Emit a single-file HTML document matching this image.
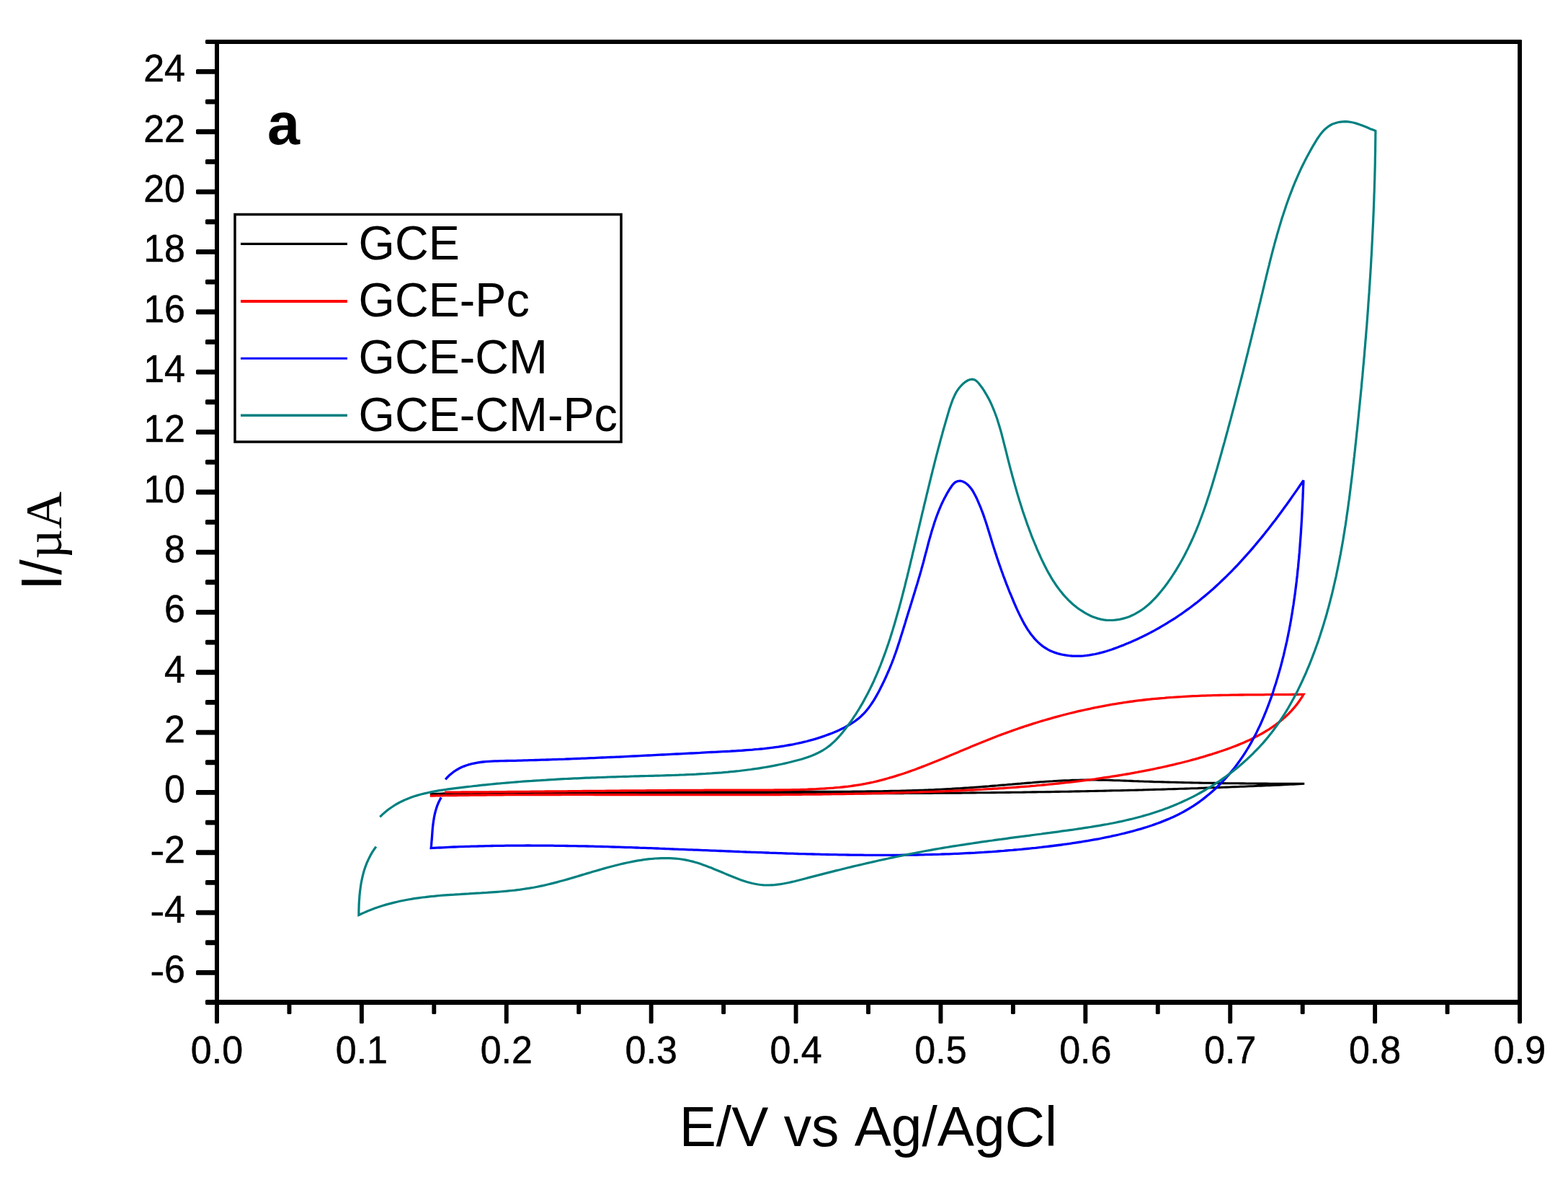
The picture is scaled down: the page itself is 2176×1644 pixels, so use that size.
<!DOCTYPE html>
<html><head><meta charset="utf-8"><title>Cyclic voltammogram</title>
<style>
html,body{margin:0;padding:0;background:#fff;}
svg{display:block;}
text{font-kerning:none;}
.tl{font-family:"Liberation Sans",Arial,sans-serif;font-size:52px;fill:#000;stroke:#000;stroke-width:0.5px;}
.ttl{font-family:"Liberation Sans",Arial,sans-serif;font-size:76.7px;fill:#000;}
.ser{font-family:"Liberation Serif","Times New Roman",serif;font-size:72px;fill:#000;}
.lab{font-family:"Liberation Sans",Arial,sans-serif;font-size:81px;font-weight:bold;fill:#000;}
.lg{font-family:"Liberation Sans",Arial,sans-serif;font-size:64.7px;fill:#000;}
</style></head><body>
<svg width="2176" height="1644" viewBox="0 0 2176 1644">
<rect width="2176" height="1644" fill="#fff"/>
<path d="M596.8,1101.9 L600.8,1101.6 L604.8,1101.4 L608.8,1101.2 L612.8,1101.0 L616.8,1100.8 L620.8,1100.7 L624.9,1100.6 L628.9,1100.6 L632.9,1100.5 L636.9,1100.4 L640.9,1100.3 L644.9,1100.2 L648.9,1100.2 L653.0,1100.1 L657.0,1100.0 L661.0,1099.9 L665.0,1099.9 L669.0,1099.8 L673.0,1099.8 L677.1,1099.7 L681.1,1099.6 L685.1,1099.6 L689.1,1099.5 L693.1,1099.5 L697.1,1099.4 L701.2,1099.4 L705.2,1099.3 L709.2,1099.3 L713.2,1099.2 L717.2,1099.2 L721.2,1099.1 L725.3,1099.1 L729.3,1099.0 L733.3,1099.0 L737.3,1098.9 L741.3,1098.9 L745.4,1098.9 L749.4,1098.8 L753.4,1098.8 L757.4,1098.8 L761.4,1098.7 L765.4,1098.7 L769.5,1098.7 L773.5,1098.6 L777.5,1098.6 L781.5,1098.6 L785.5,1098.6 L789.6,1098.5 L793.6,1098.5 L797.6,1098.5 L801.6,1098.5 L805.6,1098.5 L809.7,1098.4 L813.7,1098.4 L817.7,1098.4 L821.7,1098.4 L825.7,1098.4 L829.8,1098.4 L833.8,1098.4 L837.8,1098.3 L841.8,1098.3 L845.8,1098.3 L849.9,1098.3 L853.9,1098.3 L857.9,1098.3 L861.9,1098.3 L865.9,1098.3 L870.0,1098.3 L874.0,1098.3 L878.0,1098.3 L882.0,1098.3 L886.0,1098.3 L890.1,1098.2 L894.1,1098.2 L898.1,1098.2 L902.1,1098.2 L906.1,1098.2 L910.2,1098.2 L914.2,1098.2 L918.2,1098.2 L922.2,1098.2 L926.3,1098.2 L930.3,1098.2 L934.3,1098.2 L938.3,1098.3 L942.3,1098.3 L946.4,1098.3 L950.4,1098.3 L954.4,1098.3 L958.4,1098.3 L962.4,1098.3 L966.5,1098.3 L970.5,1098.3 L974.5,1098.3 L978.5,1098.3 L982.6,1098.3 L986.6,1098.3 L990.6,1098.3 L994.6,1098.3 L998.6,1098.3 L1002.7,1098.3 L1006.7,1098.3 L1010.7,1098.3 L1014.7,1098.3 L1018.8,1098.3 L1022.8,1098.3 L1026.8,1098.3 L1030.8,1098.3 L1034.8,1098.4 L1038.9,1098.4 L1042.9,1098.4 L1046.9,1098.4 L1050.9,1098.4 L1055.0,1098.4 L1059.0,1098.4 L1063.0,1098.4 L1067.0,1098.4 L1071.0,1098.4 L1075.1,1098.4 L1079.1,1098.4 L1083.1,1098.4 L1087.1,1098.4 L1091.2,1098.4 L1095.2,1098.4 L1099.2,1098.4 L1103.2,1098.4 L1107.2,1098.4 L1111.3,1098.4 L1115.3,1098.4 L1119.3,1098.4 L1123.3,1098.4 L1127.4,1098.3 L1131.4,1098.3 L1135.4,1098.3 L1139.4,1098.3 L1143.4,1098.3 L1147.5,1098.3 L1151.5,1098.3 L1155.5,1098.3 L1159.5,1098.3 L1163.5,1098.2 L1167.6,1098.2 L1171.6,1098.2 L1175.6,1098.2 L1179.6,1098.2 L1183.7,1098.1 L1187.7,1098.1 L1191.7,1098.1 L1195.7,1098.0 L1199.7,1098.0 L1203.8,1097.9 L1207.8,1097.9 L1211.8,1097.8 L1215.8,1097.8 L1219.8,1097.7 L1223.9,1097.7 L1227.9,1097.6 L1231.9,1097.5 L1235.9,1097.4 L1239.9,1097.3 L1243.9,1097.3 L1248.0,1097.2 L1252.0,1097.1 L1256.0,1097.0 L1260.0,1096.8 L1264.0,1096.7 L1268.0,1096.6 L1272.1,1096.5 L1276.1,1096.3 L1280.1,1096.2 L1284.1,1096.0 L1288.1,1095.9 L1292.1,1095.7 L1296.2,1095.6 L1300.2,1095.4 L1304.2,1095.2 L1308.2,1095.0 L1312.2,1094.8 L1316.2,1094.6 L1320.2,1094.4 L1324.2,1094.1 L1328.3,1093.9 L1332.3,1093.7 L1336.3,1093.4 L1340.3,1093.1 L1344.3,1092.9 L1348.3,1092.6 L1352.3,1092.3 L1356.3,1092.0 L1360.3,1091.7 L1364.3,1091.4 L1368.3,1091.1 L1372.3,1090.8 L1376.4,1090.4 L1380.4,1090.1 L1384.4,1089.8 L1388.4,1089.4 L1392.4,1089.1 L1396.4,1088.8 L1400.4,1088.4 L1404.4,1088.1 L1408.4,1087.7 L1412.4,1087.4 L1416.4,1087.1 L1420.4,1086.7 L1424.4,1086.4 L1428.5,1086.1 L1432.5,1085.8 L1436.5,1085.4 L1440.5,1085.1 L1444.5,1084.8 L1448.5,1084.6 L1452.5,1084.3 L1456.5,1084.0 L1460.5,1083.8 L1464.5,1083.5 L1468.6,1083.3 L1472.6,1083.1 L1476.6,1082.9 L1480.6,1082.7 L1484.6,1082.6 L1488.6,1082.4 L1492.6,1082.3 L1496.7,1082.2 L1500.7,1082.1 L1504.7,1082.0 L1508.7,1082.0 L1512.7,1082.0 L1516.7,1082.0 L1520.8,1082.0 L1524.8,1082.1 L1528.8,1082.2 L1532.8,1082.2 L1536.8,1082.3 L1540.9,1082.4 L1544.9,1082.6 L1548.9,1082.7 L1552.9,1082.8 L1556.9,1083.0 L1561.0,1083.1 L1565.0,1083.3 L1569.0,1083.4 L1573.0,1083.6 L1577.0,1083.7 L1581.1,1083.9 L1585.1,1084.0 L1589.1,1084.2 L1593.1,1084.3 L1597.1,1084.4 L1601.2,1084.6 L1605.2,1084.7 L1609.2,1084.8 L1613.2,1084.9 L1617.2,1085.0 L1621.3,1085.1 L1625.3,1085.2 L1629.3,1085.3 L1633.3,1085.4 L1637.3,1085.5 L1641.4,1085.6 L1645.4,1085.7 L1649.4,1085.8 L1653.4,1085.9 L1657.4,1086.0 L1661.5,1086.0 L1665.5,1086.1 L1669.5,1086.2 L1673.5,1086.3 L1677.5,1086.3 L1681.6,1086.4 L1685.6,1086.4 L1689.6,1086.5 L1693.6,1086.6 L1697.6,1086.6 L1701.6,1086.7 L1705.7,1086.7 L1709.7,1086.8 L1713.7,1086.8 L1717.7,1086.8 L1721.7,1086.9 L1725.8,1086.9 L1729.8,1087.0 L1733.8,1087.0 L1737.8,1087.0 L1741.8,1087.0 L1745.9,1087.1 L1749.9,1087.1 L1753.9,1087.1 L1757.9,1087.1 L1761.9,1087.2 L1766.0,1087.2 L1770.0,1087.2 L1774.0,1087.2 L1778.0,1087.2 L1782.0,1087.2 L1786.1,1087.3 L1790.1,1087.3 L1794.1,1087.3 L1798.1,1087.3 L1802.2,1087.3 L1806.2,1087.3 L1810.2,1087.3 L1806.2,1087.5 L1802.2,1087.7 L1798.2,1087.9 L1794.2,1088.1 L1790.2,1088.3 L1786.1,1088.5 L1782.1,1088.7 L1778.1,1088.9 L1774.1,1089.1 L1770.1,1089.2 L1766.1,1089.4 L1762.1,1089.6 L1758.1,1089.8 L1754.1,1090.0 L1750.0,1090.1 L1746.0,1090.3 L1742.0,1090.5 L1738.0,1090.7 L1734.0,1090.8 L1730.0,1091.0 L1726.0,1091.2 L1722.0,1091.3 L1718.0,1091.5 L1714.0,1091.6 L1709.9,1091.8 L1705.9,1092.0 L1701.9,1092.1 L1697.9,1092.3 L1693.9,1092.4 L1689.9,1092.6 L1685.9,1092.7 L1681.9,1092.8 L1677.8,1093.0 L1673.8,1093.1 L1669.8,1093.3 L1665.8,1093.4 L1661.8,1093.6 L1657.8,1093.7 L1653.8,1093.8 L1649.8,1094.0 L1645.8,1094.1 L1641.7,1094.2 L1637.7,1094.3 L1633.7,1094.5 L1629.7,1094.6 L1625.7,1094.7 L1621.7,1094.8 L1617.7,1095.0 L1613.7,1095.1 L1609.6,1095.2 L1605.6,1095.3 L1601.6,1095.4 L1597.6,1095.5 L1593.6,1095.6 L1589.6,1095.7 L1585.6,1095.9 L1581.6,1096.0 L1577.5,1096.1 L1573.5,1096.2 L1569.5,1096.3 L1565.5,1096.4 L1561.5,1096.5 L1557.5,1096.6 L1553.5,1096.7 L1549.5,1096.8 L1545.4,1096.8 L1541.4,1096.9 L1537.4,1097.0 L1533.4,1097.1 L1529.4,1097.2 L1525.4,1097.3 L1521.4,1097.4 L1517.3,1097.5 L1513.3,1097.5 L1509.3,1097.6 L1505.3,1097.7 L1501.3,1097.8 L1497.3,1097.9 L1493.3,1097.9 L1489.3,1098.0 L1485.2,1098.1 L1481.2,1098.2 L1477.2,1098.2 L1473.2,1098.3 L1469.2,1098.4 L1465.2,1098.4 L1461.2,1098.5 L1457.1,1098.6 L1453.1,1098.6 L1449.1,1098.7 L1445.1,1098.8 L1441.1,1098.8 L1437.1,1098.9 L1433.1,1098.9 L1429.0,1099.0 L1425.0,1099.0 L1421.0,1099.1 L1417.0,1099.2 L1413.0,1099.2 L1409.0,1099.3 L1405.0,1099.3 L1400.9,1099.4 L1396.9,1099.4 L1392.9,1099.5 L1388.9,1099.5 L1384.9,1099.5 L1380.9,1099.6 L1376.9,1099.6 L1372.8,1099.7 L1368.8,1099.7 L1364.8,1099.8 L1360.8,1099.8 L1356.8,1099.8 L1352.8,1099.9 L1348.8,1099.9 L1344.7,1100.0 L1340.7,1100.0 L1336.7,1100.0 L1332.7,1100.1 L1328.7,1100.1 L1324.7,1100.1 L1320.7,1100.2 L1316.6,1100.2 L1312.6,1100.2 L1308.6,1100.2 L1304.6,1100.3 L1300.6,1100.3 L1296.6,1100.3 L1292.5,1100.4 L1288.5,1100.4 L1284.5,1100.4 L1280.5,1100.4 L1276.5,1100.4 L1272.5,1100.5 L1268.5,1100.5 L1264.4,1100.5 L1260.4,1100.5 L1256.4,1100.5 L1252.4,1100.6 L1248.4,1100.6 L1244.4,1100.6 L1240.4,1100.6 L1236.3,1100.6 L1232.3,1100.6 L1228.3,1100.7 L1224.3,1100.7 L1220.3,1100.7 L1216.3,1100.7 L1212.2,1100.7 L1208.2,1100.7 L1204.2,1100.7 L1200.2,1100.7 L1196.2,1100.8 L1192.2,1100.8 L1188.2,1100.8 L1184.1,1100.8 L1180.1,1100.8 L1176.1,1100.8 L1172.1,1100.8 L1168.1,1100.8 L1164.1,1100.8 L1160.0,1100.8 L1156.0,1100.8 L1152.0,1100.8 L1148.0,1100.8 L1144.0,1100.8 L1140.0,1100.8 L1136.0,1100.9 L1131.9,1100.9 L1127.9,1100.9 L1123.9,1100.9 L1119.9,1100.9 L1115.9,1100.9 L1111.9,1100.9 L1107.8,1100.9 L1103.8,1100.9 L1099.8,1100.9 L1095.8,1100.9 L1091.8,1100.9 L1087.8,1100.9 L1083.8,1100.9 L1079.7,1100.9 L1075.7,1100.9 L1071.7,1100.9 L1067.7,1100.9 L1063.7,1100.8 L1059.7,1100.8 L1055.6,1100.8 L1051.6,1100.8 L1047.6,1100.8 L1043.6,1100.8 L1039.6,1100.8 L1035.6,1100.8 L1031.6,1100.8 L1027.5,1100.8 L1023.5,1100.8 L1019.5,1100.8 L1015.5,1100.8 L1011.5,1100.8 L1007.5,1100.8 L1003.4,1100.8 L999.4,1100.8 L995.4,1100.8 L991.4,1100.8 L987.4,1100.8 L983.4,1100.8 L979.4,1100.8 L975.3,1100.8 L971.3,1100.8 L967.3,1100.7 L963.3,1100.7 L959.3,1100.7 L955.3,1100.7 L951.2,1100.7 L947.2,1100.7 L943.2,1100.7 L939.2,1100.7 L935.2,1100.7 L931.2,1100.7 L927.1,1100.7 L923.1,1100.7 L919.1,1100.7 L915.1,1100.7 L911.1,1100.7 L907.1,1100.7 L903.1,1100.7 L899.0,1100.7 L895.0,1100.7 L891.0,1100.7 L887.0,1100.7 L883.0,1100.7 L879.0,1100.7 L875.0,1100.7 L870.9,1100.7 L866.9,1100.7 L862.9,1100.7 L858.9,1100.6 L854.9,1100.6 L850.9,1100.6 L846.8,1100.6 L842.8,1100.6 L838.8,1100.6 L834.8,1100.6 L830.8,1100.7 L826.8,1100.7 L822.8,1100.7 L818.7,1100.7 L814.7,1100.7 L810.7,1100.7 L806.7,1100.7 L802.7,1100.7 L798.7,1100.7 L794.7,1100.7 L790.6,1100.7 L786.6,1100.7 L782.6,1100.7 L778.6,1100.7 L774.6,1100.7 L770.6,1100.7 L766.5,1100.7 L762.5,1100.7 L758.5,1100.7 L754.5,1100.7 L750.5,1100.8 L746.5,1100.8 L742.5,1100.8 L738.4,1100.8 L734.4,1100.8 L730.4,1100.8 L726.4,1100.8 L722.4,1100.8 L718.4,1100.9 L714.4,1100.9 L710.3,1100.9 L706.3,1100.9 L702.3,1100.9 L698.3,1100.9 L694.3,1101.0 L690.3,1101.0 L686.3,1101.0 L682.2,1101.0 L678.2,1101.0 L674.2,1101.1 L670.2,1101.1 L666.2,1101.1 L662.2,1101.1 L658.2,1101.1 L654.1,1101.2 L650.1,1101.2 L646.1,1101.2 L642.1,1101.3 L638.1,1101.3 L634.1,1101.3 L630.1,1101.3 L626.1,1101.4 L622.0,1101.4 L618.0,1101.4 L614.0,1101.5 L610.0,1101.5" fill="none" stroke="#000" stroke-width="3.1" stroke-linejoin="miter" stroke-miterlimit="2.5" stroke-linecap="butt"/>
<path d="M596.8,1104.1 L600.8,1104.0 L604.8,1103.9 L608.8,1103.9 L612.9,1103.8 L616.9,1103.7 L620.9,1103.7 L624.9,1103.6 L628.9,1103.5 L632.9,1103.5 L637.0,1103.4 L641.0,1103.4 L645.0,1103.3 L649.0,1103.3 L653.0,1103.2 L657.0,1103.2 L661.1,1103.1 L665.1,1103.1 L669.1,1103.0 L673.1,1103.0 L677.1,1102.9 L681.2,1102.9 L685.2,1102.9 L689.2,1102.8 L693.2,1102.8 L697.2,1102.8 L701.2,1102.7 L705.3,1102.7 L709.3,1102.7 L713.3,1102.7 L717.3,1102.6 L721.3,1102.6 L725.3,1102.6 L729.4,1102.6 L733.4,1102.6 L737.4,1102.6 L741.4,1102.5 L745.4,1102.5 L749.4,1102.5 L753.5,1102.5 L757.5,1102.5 L761.5,1102.5 L765.5,1102.5 L769.5,1102.5 L773.6,1102.5 L777.6,1102.5 L781.6,1102.4 L785.6,1102.4 L789.6,1102.4 L793.6,1102.4 L797.7,1102.4 L801.7,1102.4 L805.7,1102.4 L809.7,1102.4 L813.7,1102.4 L817.7,1102.4 L821.8,1102.4 L825.8,1102.5 L829.8,1102.5 L833.8,1102.5 L837.8,1102.5 L841.9,1102.5 L845.9,1102.5 L849.9,1102.5 L853.9,1102.5 L857.9,1102.5 L861.9,1102.5 L866.0,1102.5 L870.0,1102.5 L874.0,1102.5 L878.0,1102.5 L882.0,1102.5 L886.1,1102.6 L890.1,1102.6 L894.1,1102.6 L898.1,1102.6 L902.1,1102.6 L906.1,1102.6 L910.2,1102.6 L914.2,1102.6 L918.2,1102.6 L922.2,1102.6 L926.2,1102.6 L930.3,1102.7 L934.3,1102.7 L938.3,1102.7 L942.3,1102.7 L946.3,1102.7 L950.4,1102.7 L954.4,1102.7 L958.4,1102.7 L962.4,1102.7 L966.4,1102.7 L970.4,1102.7 L974.5,1102.7 L978.5,1102.7 L982.5,1102.7 L986.5,1102.7 L990.5,1102.7 L994.6,1102.7 L998.6,1102.7 L1002.6,1102.7 L1006.6,1102.7 L1010.6,1102.7 L1014.6,1102.7 L1018.7,1102.7 L1022.7,1102.7 L1026.7,1102.7 L1030.7,1102.7 L1034.7,1102.7 L1038.7,1102.7 L1042.8,1102.7 L1046.8,1102.6 L1050.8,1102.6 L1054.8,1102.6 L1058.8,1102.6 L1062.9,1102.6 L1066.9,1102.6 L1070.9,1102.5 L1074.9,1102.5 L1078.9,1102.5 L1082.9,1102.5 L1087.0,1102.4 L1091.0,1102.4 L1095.0,1102.4 L1099.0,1102.4 L1103.0,1102.3 L1107.1,1102.3 L1111.1,1102.3 L1115.1,1102.2 L1119.1,1102.2 L1123.1,1102.1 L1127.1,1102.1 L1131.2,1102.1 L1135.2,1102.0 L1139.2,1102.0 L1143.2,1101.9 L1147.2,1101.9 L1151.2,1101.8 L1155.3,1101.7 L1159.3,1101.7 L1163.3,1101.6 L1167.3,1101.6 L1171.3,1101.5 L1175.3,1101.4 L1179.4,1101.4 L1183.4,1101.3 L1187.4,1101.2 L1191.4,1101.1 L1195.4,1101.1 L1199.4,1101.0 L1203.5,1100.9 L1207.5,1100.8 L1211.5,1100.7 L1215.5,1100.6 L1219.5,1100.6 L1223.5,1100.5 L1227.6,1100.4 L1231.6,1100.3 L1235.6,1100.2 L1239.6,1100.1 L1243.6,1099.9 L1247.6,1099.8 L1251.7,1099.7 L1255.7,1099.6 L1259.7,1099.5 L1263.7,1099.4 L1267.7,1099.2 L1271.7,1099.1 L1275.8,1099.0 L1279.8,1098.8 L1283.8,1098.7 L1287.8,1098.6 L1291.8,1098.4 L1295.8,1098.3 L1299.9,1098.1 L1303.9,1098.0 L1307.9,1097.8 L1311.9,1097.7 L1315.9,1097.5 L1319.9,1097.3 L1323.9,1097.2 L1328.0,1097.0 L1332.0,1096.8 L1336.0,1096.6 L1340.0,1096.4 L1344.0,1096.2 L1348.0,1096.0 L1352.0,1095.8 L1356.0,1095.6 L1360.1,1095.4 L1364.1,1095.2 L1368.1,1094.9 L1372.1,1094.7 L1376.1,1094.5 L1380.1,1094.2 L1384.1,1094.0 L1388.1,1093.7 L1392.1,1093.5 L1396.1,1093.2 L1400.1,1092.9 L1404.1,1092.6 L1408.1,1092.3 L1412.2,1092.0 L1416.2,1091.7 L1420.2,1091.4 L1424.2,1091.1 L1428.2,1090.8 L1432.2,1090.4 L1436.2,1090.1 L1440.2,1089.7 L1444.1,1089.4 L1448.1,1089.0 L1452.1,1088.6 L1456.1,1088.2 L1460.1,1087.8 L1464.1,1087.4 L1468.1,1087.0 L1472.1,1086.6 L1476.1,1086.2 L1480.1,1085.7 L1484.1,1085.3 L1488.0,1084.8 L1492.0,1084.3 L1496.0,1083.9 L1500.0,1083.4 L1504.0,1082.9 L1507.9,1082.4 L1511.9,1081.8 L1515.9,1081.3 L1519.9,1080.8 L1523.8,1080.2 L1527.8,1079.6 L1531.8,1079.0 L1535.7,1078.5 L1539.7,1077.9 L1543.7,1077.2 L1547.6,1076.6 L1551.6,1076.0 L1555.6,1075.3 L1559.5,1074.7 L1563.5,1074.0 L1567.4,1073.3 L1571.4,1072.6 L1575.3,1071.9 L1579.3,1071.2 L1583.2,1070.4 L1587.2,1069.7 L1591.1,1068.9 L1595.1,1068.1 L1599.0,1067.3 L1602.9,1066.5 L1606.9,1065.7 L1610.8,1064.9 L1614.7,1064.0 L1618.7,1063.1 L1622.6,1062.2 L1626.5,1061.3 L1630.4,1060.4 L1634.3,1059.4 L1638.3,1058.5 L1642.2,1057.5 L1646.1,1056.5 L1650.0,1055.5 L1653.9,1054.4 L1657.8,1053.4 L1661.6,1052.3 L1665.5,1051.2 L1669.4,1050.1 L1673.3,1048.9 L1677.1,1047.7 L1681.0,1046.6 L1684.9,1045.3 L1688.7,1044.1 L1692.6,1042.8 L1696.4,1041.5 L1700.2,1040.2 L1704.0,1038.9 L1707.8,1037.5 L1711.6,1036.0 L1715.4,1034.6 L1719.1,1033.1 L1722.9,1031.5 L1726.6,1030.0 L1730.2,1028.3 L1733.9,1026.7 L1737.5,1024.9 L1741.1,1023.1 L1744.6,1021.3 L1748.1,1019.4 L1751.6,1017.5 L1755.0,1015.5 L1758.4,1013.4 L1761.8,1011.3 L1765.1,1009.1 L1768.3,1006.9 L1771.5,1004.5 L1774.7,1002.1 L1777.7,999.7 L1780.8,997.1 L1783.7,994.5 L1786.6,991.8 L1789.4,989.0 L1792.2,986.1 L1794.8,983.1 L1797.4,980.1 L1799.9,976.9 L1802.3,973.7 L1804.6,970.4 L1806.9,966.9 L1809.0,963.4 L1805.0,963.4 L1801.0,963.5 L1797.0,963.5 L1793.0,963.5 L1789.0,963.6 L1785.0,963.6 L1781.0,963.6 L1777.0,963.6 L1773.0,963.7 L1769.0,963.7 L1764.9,963.7 L1760.9,963.7 L1756.9,963.7 L1752.9,963.8 L1748.8,963.8 L1744.8,963.8 L1740.8,963.8 L1736.8,963.9 L1732.7,963.9 L1728.7,963.9 L1724.7,964.0 L1720.6,964.0 L1716.6,964.1 L1712.5,964.1 L1708.5,964.2 L1704.5,964.3 L1700.4,964.3 L1696.4,964.4 L1692.4,964.5 L1688.3,964.6 L1684.3,964.7 L1680.3,964.8 L1676.2,964.9 L1672.2,965.1 L1668.1,965.2 L1664.1,965.4 L1660.1,965.6 L1656.0,965.7 L1652.0,965.9 L1648.0,966.1 L1644.0,966.3 L1639.9,966.6 L1635.9,966.8 L1631.9,967.1 L1627.9,967.4 L1623.8,967.6 L1619.8,967.9 L1615.8,968.3 L1611.8,968.6 L1607.8,969.0 L1603.8,969.3 L1599.8,969.7 L1595.8,970.1 L1591.8,970.5 L1587.8,971.0 L1583.8,971.5 L1579.8,971.9 L1575.8,972.4 L1571.8,973.0 L1567.8,973.5 L1563.8,974.1 L1559.9,974.7 L1555.9,975.3 L1551.9,975.9 L1548.0,976.6 L1544.0,977.2 L1540.1,977.9 L1536.1,978.6 L1532.2,979.3 L1528.2,980.1 L1524.3,980.8 L1520.3,981.6 L1516.4,982.4 L1512.5,983.3 L1508.6,984.1 L1504.6,985.0 L1500.7,985.8 L1496.8,986.7 L1492.9,987.7 L1489.0,988.6 L1485.1,989.5 L1481.2,990.5 L1477.3,991.5 L1473.4,992.5 L1469.5,993.6 L1465.7,994.6 L1461.8,995.7 L1457.9,996.8 L1454.1,997.9 L1450.2,999.0 L1446.3,1000.1 L1442.5,1001.3 L1438.7,1002.5 L1434.8,1003.7 L1431.0,1004.9 L1427.2,1006.1 L1423.3,1007.3 L1419.5,1008.6 L1415.7,1009.9 L1411.9,1011.2 L1408.1,1012.5 L1404.3,1013.9 L1400.5,1015.2 L1396.7,1016.6 L1392.9,1018.0 L1389.1,1019.4 L1385.4,1020.8 L1381.6,1022.2 L1377.8,1023.7 L1374.1,1025.2 L1370.3,1026.7 L1366.6,1028.2 L1362.8,1029.7 L1359.1,1031.2 L1355.4,1032.7 L1351.6,1034.3 L1347.9,1035.8 L1344.2,1037.4 L1340.4,1039.0 L1336.7,1040.5 L1333.0,1042.1 L1329.3,1043.7 L1325.5,1045.2 L1321.8,1046.8 L1318.1,1048.3 L1314.4,1049.9 L1310.6,1051.4 L1306.9,1053.0 L1303.2,1054.5 L1299.5,1056.0 L1295.7,1057.5 L1292.0,1059.0 L1288.2,1060.5 L1284.5,1062.0 L1280.8,1063.4 L1277.0,1064.9 L1273.2,1066.3 L1269.5,1067.7 L1265.7,1069.0 L1261.9,1070.4 L1258.2,1071.7 L1254.4,1073.0 L1250.6,1074.2 L1246.8,1075.4 L1243.0,1076.6 L1239.1,1077.8 L1235.3,1078.9 L1231.5,1080.0 L1227.6,1081.1 L1223.8,1082.1 L1219.9,1083.1 L1216.0,1084.1 L1212.1,1085.0 L1208.2,1085.8 L1204.3,1086.6 L1200.4,1087.4 L1196.5,1088.1 L1192.5,1088.8 L1188.6,1089.4 L1184.6,1090.0 L1180.6,1090.6 L1176.6,1091.1 L1172.6,1091.5 L1168.6,1092.0 L1164.6,1092.4 L1160.6,1092.7 L1156.5,1093.1 L1152.5,1093.4 L1148.5,1093.7 L1144.5,1094.0 L1140.4,1094.2 L1136.4,1094.4 L1132.4,1094.7 L1128.3,1094.8 L1124.3,1095.0 L1120.3,1095.2 L1116.2,1095.3 L1112.2,1095.4 L1108.2,1095.6 L1104.1,1095.7 L1100.1,1095.7 L1096.0,1095.8 L1092.0,1095.9 L1087.9,1095.9 L1083.9,1096.0 L1079.9,1096.0 L1075.8,1096.0 L1071.8,1096.1 L1067.7,1096.1 L1063.7,1096.1 L1059.6,1096.1 L1055.6,1096.1 L1051.6,1096.1 L1047.5,1096.1 L1043.5,1096.1 L1039.4,1096.1 L1035.4,1096.1 L1031.4,1096.1 L1027.3,1096.1 L1023.3,1096.1 L1019.3,1096.1 L1015.2,1096.1 L1011.2,1096.1 L1007.2,1096.1 L1003.1,1096.2 L999.1,1096.2 L995.1,1096.2 L991.0,1096.2 L987.0,1096.2 L983.0,1096.2 L978.9,1096.2 L974.9,1096.3 L970.9,1096.3 L966.9,1096.3 L962.8,1096.3 L958.8,1096.3 L954.8,1096.4 L950.8,1096.4 L946.7,1096.4 L942.7,1096.4 L938.7,1096.4 L934.7,1096.5 L930.7,1096.5 L926.6,1096.5 L922.6,1096.6 L918.6,1096.6 L914.6,1096.6 L910.5,1096.6 L906.5,1096.7 L902.5,1096.7 L898.5,1096.7 L894.5,1096.8 L890.5,1096.8 L886.4,1096.8 L882.4,1096.9 L878.4,1096.9 L874.4,1096.9 L870.4,1097.0 L866.3,1097.0 L862.3,1097.0 L858.3,1097.1 L854.3,1097.1 L850.3,1097.1 L846.3,1097.2 L842.2,1097.2 L838.2,1097.3 L834.2,1097.3 L830.2,1097.3 L826.2,1097.4 L822.2,1097.4 L818.2,1097.4 L814.1,1097.5 L810.1,1097.5 L806.1,1097.6 L802.1,1097.6 L798.1,1097.6 L794.1,1097.7 L790.0,1097.7 L786.0,1097.8 L782.0,1097.8 L778.0,1097.8 L774.0,1097.9 L770.0,1097.9 L765.9,1098.0 L761.9,1098.0 L757.9,1098.0 L753.9,1098.1 L749.9,1098.1 L745.8,1098.1 L741.8,1098.2 L737.8,1098.2 L733.8,1098.3 L729.8,1098.3 L725.7,1098.3 L721.7,1098.4 L717.7,1098.4 L713.7,1098.5 L709.7,1098.5 L705.6,1098.5 L701.6,1098.6 L697.6,1098.6 L693.6,1098.6 L689.5,1098.7 L685.5,1098.7 L681.5,1098.7 L677.5,1098.8 L673.4,1098.8 L669.4,1098.8 L665.4,1098.9 L661.4,1098.9 L657.3,1098.9 L653.3,1099.0 L649.3,1099.0 L645.2,1099.0 L641.2,1099.0 L637.2,1099.1 L633.1,1099.1 L629.1,1099.1 L625.1,1099.2 L621.0,1099.2 L617.0,1099.2" fill="none" stroke="#f00" stroke-width="3.3" stroke-linejoin="miter" stroke-miterlimit="2.5" stroke-linecap="butt"/>
<path d="M618.2,1081.4 L621.0,1078.2 L624.0,1075.3 L627.1,1072.7 L630.2,1070.3 L633.5,1068.2 L636.9,1066.3 L640.3,1064.6 L643.8,1063.1 L647.5,1061.7 L651.1,1060.6 L654.9,1059.6 L658.7,1058.8 L662.5,1058.1 L666.4,1057.5 L670.4,1057.0 L674.4,1056.6 L678.4,1056.3 L682.4,1056.1 L686.5,1055.9 L690.6,1055.8 L694.7,1055.7 L698.8,1055.6 L702.9,1055.5 L706.9,1055.4 L711.0,1055.4 L715.1,1055.3 L719.2,1055.2 L723.2,1055.1 L727.3,1054.9 L731.4,1054.8 L735.4,1054.7 L739.5,1054.6 L743.5,1054.5 L747.6,1054.4 L751.6,1054.2 L755.6,1054.1 L759.7,1054.0 L763.7,1053.9 L767.7,1053.7 L771.8,1053.6 L775.8,1053.4 L779.8,1053.3 L783.8,1053.2 L787.8,1053.0 L791.8,1052.9 L795.9,1052.7 L799.9,1052.5 L803.9,1052.4 L807.9,1052.2 L811.9,1052.1 L815.9,1051.9 L819.9,1051.7 L823.9,1051.6 L827.9,1051.4 L831.9,1051.2 L835.9,1051.0 L839.9,1050.9 L843.8,1050.7 L847.8,1050.5 L851.8,1050.3 L855.8,1050.1 L859.8,1050.0 L863.8,1049.8 L867.8,1049.6 L871.8,1049.4 L875.7,1049.2 L879.7,1049.0 L883.7,1048.8 L887.7,1048.6 L891.7,1048.4 L895.7,1048.2 L899.7,1048.0 L903.7,1047.8 L907.6,1047.6 L911.6,1047.4 L915.6,1047.2 L919.6,1047.0 L923.6,1046.8 L927.6,1046.6 L931.6,1046.4 L935.6,1046.2 L939.6,1046.0 L943.6,1045.8 L947.6,1045.6 L951.6,1045.4 L955.6,1045.2 L959.6,1045.0 L963.6,1044.8 L967.6,1044.6 L971.6,1044.4 L975.7,1044.1 L979.7,1043.9 L983.7,1043.7 L987.7,1043.5 L991.8,1043.3 L995.8,1043.1 L999.8,1042.9 L1003.9,1042.7 L1007.9,1042.5 L1011.9,1042.3 L1016.0,1042.0 L1020.0,1041.8 L1024.0,1041.5 L1028.1,1041.3 L1032.1,1041.0 L1036.1,1040.7 L1040.2,1040.4 L1044.2,1040.1 L1048.2,1039.7 L1052.2,1039.4 L1056.3,1039.0 L1060.3,1038.6 L1064.3,1038.1 L1068.3,1037.7 L1072.3,1037.2 L1076.2,1036.6 L1080.2,1036.1 L1084.2,1035.5 L1088.2,1034.9 L1092.1,1034.2 L1096.1,1033.5 L1100.0,1032.8 L1103.9,1032.0 L1107.8,1031.2 L1111.7,1030.3 L1115.6,1029.4 L1119.5,1028.5 L1123.4,1027.4 L1127.2,1026.4 L1131.0,1025.3 L1134.9,1024.1 L1138.7,1022.9 L1142.5,1021.6 L1146.2,1020.3 L1150.0,1018.9 L1153.8,1017.5 L1157.5,1016.0 L1161.2,1014.4 L1164.9,1012.8 L1168.5,1011.0 L1172.1,1009.2 L1175.6,1007.3 L1179.1,1005.3 L1182.5,1003.2 L1185.8,1001.0 L1189.0,998.6 L1192.1,996.2 L1195.1,993.5 L1197.9,990.8 L1200.7,987.9 L1203.3,984.8 L1205.7,981.7 L1208.1,978.4 L1210.4,975.0 L1212.6,971.6 L1214.7,968.1 L1216.7,964.6 L1218.7,961.0 L1220.6,957.4 L1222.4,953.8 L1224.2,950.2 L1226.0,946.6 L1227.7,943.0 L1229.4,939.3 L1231.0,935.7 L1232.6,932.0 L1234.2,928.4 L1235.7,924.7 L1237.2,921.0 L1238.6,917.3 L1240.1,913.5 L1241.4,909.8 L1242.8,906.0 L1244.1,902.2 L1245.4,898.4 L1246.6,894.6 L1247.9,890.8 L1249.1,886.9 L1250.3,883.1 L1251.5,879.3 L1252.7,875.4 L1253.9,871.6 L1255.1,867.7 L1256.3,863.9 L1257.4,860.0 L1258.6,856.2 L1259.8,852.3 L1261.0,848.5 L1262.2,844.7 L1263.4,840.8 L1264.6,837.0 L1265.7,833.2 L1266.9,829.4 L1268.1,825.6 L1269.3,821.7 L1270.4,817.9 L1271.6,814.1 L1272.8,810.3 L1273.9,806.5 L1275.0,802.6 L1276.2,798.8 L1277.3,794.9 L1278.4,791.1 L1279.4,787.2 L1280.5,783.4 L1281.6,779.5 L1282.6,775.6 L1283.6,771.7 L1284.6,767.9 L1285.7,764.0 L1286.7,760.1 L1287.7,756.2 L1288.7,752.3 L1289.8,748.4 L1290.9,744.5 L1292.0,740.7 L1293.1,736.8 L1294.3,733.0 L1295.5,729.2 L1296.7,725.3 L1298.0,721.5 L1299.3,717.8 L1300.7,714.0 L1302.1,710.3 L1303.6,706.6 L1305.2,702.9 L1306.8,699.2 L1308.5,695.6 L1310.3,692.0 L1312.2,688.4 L1314.1,684.9 L1316.2,681.4 L1318.3,678.0 L1320.6,674.5 L1323.0,671.4 L1325.8,668.9 L1329.0,667.5 L1332.6,667.2 L1336.2,668.0 L1339.7,669.8 L1343.0,672.4 L1345.9,675.5 L1348.4,678.8 L1350.6,682.2 L1352.5,685.7 L1354.4,689.3 L1356.1,692.9 L1357.7,696.6 L1359.3,700.3 L1360.9,704.0 L1362.3,707.8 L1363.8,711.6 L1365.1,715.4 L1366.4,719.2 L1367.7,723.1 L1369.0,726.9 L1370.2,730.8 L1371.4,734.7 L1372.6,738.5 L1373.8,742.4 L1375.0,746.3 L1376.1,750.1 L1377.3,753.9 L1378.5,757.8 L1379.7,761.6 L1380.9,765.3 L1382.2,769.1 L1383.4,772.9 L1384.6,776.6 L1385.9,780.4 L1387.2,784.1 L1388.5,787.8 L1389.8,791.5 L1391.2,795.2 L1392.5,799.0 L1393.9,802.7 L1395.3,806.4 L1396.7,810.1 L1398.2,813.8 L1399.6,817.5 L1401.1,821.3 L1402.7,825.0 L1404.2,828.7 L1405.8,832.5 L1407.4,836.3 L1409.0,840.0 L1410.7,843.8 L1412.4,847.6 L1414.2,851.4 L1416.0,855.1 L1417.9,858.8 L1419.8,862.5 L1421.8,866.1 L1423.9,869.6 L1426.0,873.1 L1428.3,876.4 L1430.6,879.7 L1433.1,882.8 L1435.6,885.8 L1438.2,888.7 L1441.0,891.4 L1443.9,894.0 L1446.9,896.3 L1450.1,898.5 L1453.4,900.6 L1456.8,902.4 L1460.4,904.0 L1464.0,905.4 L1467.8,906.6 L1471.7,907.6 L1475.6,908.5 L1479.6,909.1 L1483.6,909.7 L1487.7,910.0 L1491.7,910.2 L1495.8,910.2 L1499.8,910.1 L1503.8,909.8 L1507.8,909.4 L1511.8,908.9 L1515.8,908.2 L1519.7,907.5 L1523.6,906.6 L1527.5,905.6 L1531.4,904.6 L1535.3,903.5 L1539.1,902.3 L1543.0,901.0 L1546.8,899.6 L1550.6,898.3 L1554.3,896.8 L1558.1,895.4 L1561.8,893.8 L1565.6,892.3 L1569.3,890.7 L1573.0,889.1 L1576.6,887.4 L1580.3,885.7 L1583.9,884.0 L1587.5,882.3 L1591.1,880.5 L1594.7,878.6 L1598.2,876.8 L1601.8,874.9 L1605.3,872.9 L1608.8,871.0 L1612.2,868.9 L1615.7,866.9 L1619.1,864.8 L1622.5,862.7 L1625.9,860.6 L1629.3,858.5 L1632.6,856.3 L1636.0,854.0 L1639.3,851.8 L1642.6,849.5 L1645.8,847.2 L1649.1,844.8 L1652.3,842.5 L1655.5,840.0 L1658.6,837.6 L1661.8,835.2 L1664.9,832.7 L1668.0,830.1 L1671.1,827.6 L1674.2,825.0 L1677.2,822.4 L1680.3,819.8 L1683.3,817.2 L1686.2,814.5 L1689.2,811.8 L1692.1,809.1 L1695.0,806.3 L1697.9,803.5 L1700.8,800.8 L1703.7,797.9 L1706.5,795.1 L1709.3,792.3 L1712.1,789.4 L1714.9,786.5 L1717.7,783.6 L1720.4,780.6 L1723.1,777.7 L1725.8,774.7 L1728.5,771.7 L1731.2,768.7 L1733.9,765.7 L1736.5,762.7 L1739.1,759.6 L1741.7,756.5 L1744.3,753.4 L1746.9,750.3 L1749.4,747.2 L1752.0,744.1 L1754.5,741.0 L1757.0,737.8 L1759.5,734.7 L1762.0,731.5 L1764.5,728.3 L1766.9,725.1 L1769.4,721.9 L1771.8,718.7 L1774.2,715.5 L1776.6,712.2 L1779.0,709.0 L1781.3,705.8 L1783.7,702.5 L1786.1,699.2 L1788.4,696.0 L1790.7,692.7 L1793.0,689.4 L1795.3,686.1 L1797.6,682.9 L1799.9,679.6 L1802.2,676.3 L1804.4,673.0 L1806.7,669.7 L1808.9,666.4 L1808.8,670.4 L1808.6,674.4 L1808.4,678.4 L1808.3,682.4 L1808.1,686.4 L1808.0,690.4 L1807.8,694.5 L1807.6,698.5 L1807.4,702.5 L1807.2,706.5 L1807.0,710.5 L1806.8,714.5 L1806.6,718.5 L1806.4,722.5 L1806.1,726.6 L1805.9,730.6 L1805.6,734.6 L1805.4,738.6 L1805.1,742.6 L1804.8,746.6 L1804.5,750.6 L1804.2,754.7 L1803.9,758.7 L1803.6,762.7 L1803.3,766.7 L1802.9,770.7 L1802.6,774.7 L1802.2,778.7 L1801.8,782.7 L1801.5,786.7 L1801.0,790.7 L1800.6,794.7 L1800.2,798.7 L1799.7,802.7 L1799.3,806.7 L1798.8,810.7 L1798.3,814.7 L1797.8,818.6 L1797.3,822.6 L1796.8,826.6 L1796.2,830.6 L1795.6,834.6 L1795.1,838.5 L1794.4,842.5 L1793.8,846.5 L1793.2,850.4 L1792.5,854.4 L1791.9,858.3 L1791.2,862.3 L1790.5,866.2 L1789.7,870.2 L1789.0,874.1 L1788.2,878.0 L1787.4,882.0 L1786.6,885.9 L1785.8,889.8 L1784.9,893.7 L1784.0,897.6 L1783.1,901.5 L1782.2,905.4 L1781.3,909.3 L1780.3,913.2 L1779.3,917.1 L1778.3,921.0 L1777.3,924.9 L1776.2,928.7 L1775.1,932.6 L1774.0,936.4 L1772.9,940.3 L1771.7,944.1 L1770.6,948.0 L1769.3,951.8 L1768.1,955.6 L1766.9,959.5 L1765.6,963.3 L1764.3,967.1 L1762.9,970.9 L1761.5,974.7 L1760.1,978.4 L1758.7,982.2 L1757.2,986.0 L1755.7,989.7 L1754.2,993.4 L1752.6,997.1 L1751.0,1000.8 L1749.4,1004.5 L1747.7,1008.1 L1745.9,1011.8 L1744.2,1015.4 L1742.4,1019.0 L1740.5,1022.5 L1738.6,1026.1 L1736.7,1029.6 L1734.7,1033.1 L1732.7,1036.6 L1730.6,1040.0 L1728.5,1043.4 L1726.3,1046.8 L1724.1,1050.1 L1721.8,1053.4 L1719.5,1056.7 L1717.1,1060.0 L1714.7,1063.2 L1712.2,1066.4 L1709.7,1069.5 L1707.1,1072.6 L1704.5,1075.6 L1701.8,1078.7 L1699.1,1081.6 L1696.4,1084.5 L1693.6,1087.4 L1690.7,1090.2 L1687.8,1093.0 L1684.9,1095.7 L1681.9,1098.4 L1678.9,1101.0 L1675.8,1103.6 L1672.7,1106.1 L1669.5,1108.6 L1666.3,1111.0 L1663.1,1113.3 L1659.8,1115.6 L1656.5,1117.8 L1653.2,1119.9 L1649.8,1122.0 L1646.3,1124.0 L1642.9,1126.0 L1639.3,1127.9 L1635.8,1129.7 L1632.2,1131.4 L1628.6,1133.2 L1625.0,1134.8 L1621.3,1136.4 L1617.6,1137.9 L1613.9,1139.4 L1610.2,1140.9 L1606.4,1142.3 L1602.6,1143.6 L1598.8,1145.0 L1595.0,1146.2 L1591.2,1147.5 L1587.3,1148.7 L1583.5,1149.8 L1579.6,1150.9 L1575.7,1152.0 L1571.8,1153.1 L1567.9,1154.1 L1564.0,1155.1 L1560.1,1156.1 L1556.2,1157.0 L1552.3,1158.0 L1548.4,1158.9 L1544.4,1159.7 L1540.5,1160.6 L1536.6,1161.4 L1532.6,1162.2 L1528.7,1163.0 L1524.7,1163.8 L1520.7,1164.5 L1516.8,1165.2 L1512.8,1165.9 L1508.8,1166.6 L1504.9,1167.2 L1500.9,1167.9 L1496.9,1168.5 L1492.9,1169.1 L1489.0,1169.7 L1485.0,1170.3 L1481.0,1170.9 L1477.0,1171.4 L1473.0,1172.0 L1469.0,1172.5 L1465.0,1173.0 L1461.0,1173.5 L1457.0,1174.0 L1453.0,1174.5 L1449.0,1174.9 L1445.0,1175.4 L1441.1,1175.8 L1437.1,1176.3 L1433.1,1176.7 L1429.1,1177.1 L1425.1,1177.5 L1421.1,1177.9 L1417.1,1178.3 L1413.1,1178.7 L1409.1,1179.0 L1405.1,1179.4 L1401.1,1179.7 L1397.1,1180.0 L1393.1,1180.4 L1389.1,1180.7 L1385.1,1181.0 L1381.1,1181.3 L1377.1,1181.6 L1373.0,1181.8 L1369.0,1182.1 L1365.0,1182.4 L1361.0,1182.6 L1357.0,1182.8 L1353.0,1183.1 L1349.0,1183.3 L1345.0,1183.5 L1341.0,1183.7 L1337.0,1183.9 L1333.0,1184.1 L1329.0,1184.3 L1325.0,1184.4 L1321.0,1184.6 L1316.9,1184.8 L1312.9,1184.9 L1308.9,1185.0 L1304.9,1185.2 L1300.9,1185.3 L1296.9,1185.4 L1292.9,1185.5 L1288.9,1185.6 L1284.8,1185.7 L1280.8,1185.8 L1276.8,1185.9 L1272.8,1186.0 L1268.8,1186.0 L1264.8,1186.1 L1260.8,1186.2 L1256.8,1186.2 L1252.7,1186.2 L1248.7,1186.3 L1244.7,1186.3 L1240.7,1186.3 L1236.7,1186.4 L1232.7,1186.4 L1228.7,1186.4 L1224.6,1186.4 L1220.6,1186.4 L1216.6,1186.4 L1212.6,1186.4 L1208.6,1186.3 L1204.6,1186.3 L1200.5,1186.3 L1196.5,1186.2 L1192.5,1186.2 L1188.5,1186.2 L1184.5,1186.1 L1180.5,1186.1 L1176.5,1186.0 L1172.4,1185.9 L1168.4,1185.9 L1164.4,1185.8 L1160.4,1185.7 L1156.4,1185.7 L1152.4,1185.6 L1148.3,1185.5 L1144.3,1185.4 L1140.3,1185.3 L1136.3,1185.2 L1132.3,1185.1 L1128.3,1185.0 L1124.2,1184.9 L1120.2,1184.8 L1116.2,1184.7 L1112.2,1184.6 L1108.2,1184.5 L1104.2,1184.3 L1100.1,1184.2 L1096.1,1184.1 L1092.1,1184.0 L1088.1,1183.8 L1084.1,1183.7 L1080.1,1183.6 L1076.0,1183.4 L1072.0,1183.3 L1068.0,1183.2 L1064.0,1183.0 L1060.0,1182.9 L1056.0,1182.7 L1052.0,1182.6 L1047.9,1182.4 L1043.9,1182.3 L1039.9,1182.1 L1035.9,1182.0 L1031.9,1181.8 L1027.9,1181.7 L1023.8,1181.5 L1019.8,1181.3 L1015.8,1181.2 L1011.8,1181.0 L1007.8,1180.9 L1003.8,1180.7 L999.7,1180.5 L995.7,1180.4 L991.7,1180.2 L987.7,1180.1 L983.7,1179.9 L979.7,1179.7 L975.6,1179.6 L971.6,1179.4 L967.6,1179.2 L963.6,1179.1 L959.6,1178.9 L955.6,1178.8 L951.5,1178.6 L947.5,1178.4 L943.5,1178.3 L939.5,1178.1 L935.5,1178.0 L931.5,1177.8 L927.4,1177.6 L923.4,1177.5 L919.4,1177.3 L915.4,1177.2 L911.4,1177.0 L907.4,1176.9 L903.3,1176.7 L899.3,1176.6 L895.3,1176.4 L891.3,1176.3 L887.3,1176.2 L883.3,1176.0 L879.2,1175.9 L875.2,1175.7 L871.2,1175.6 L867.2,1175.5 L863.2,1175.3 L859.2,1175.2 L855.1,1175.1 L851.1,1175.0 L847.1,1174.9 L843.1,1174.7 L839.1,1174.6 L835.1,1174.5 L831.1,1174.4 L827.0,1174.3 L823.0,1174.2 L819.0,1174.1 L815.0,1174.0 L811.0,1173.9 L807.0,1173.9 L802.9,1173.8 L798.9,1173.7 L794.9,1173.6 L790.9,1173.6 L786.9,1173.5 L782.9,1173.4 L778.8,1173.4 L774.8,1173.3 L770.8,1173.3 L766.8,1173.2 L762.8,1173.2 L758.8,1173.2 L754.8,1173.1 L750.7,1173.1 L746.7,1173.1 L742.7,1173.1 L738.7,1173.1 L734.7,1173.0 L730.7,1173.0 L726.7,1173.1 L722.6,1173.1 L718.6,1173.1 L714.6,1173.1 L710.6,1173.1 L706.6,1173.2 L702.6,1173.2 L698.5,1173.3 L694.5,1173.3 L690.5,1173.4 L686.5,1173.4 L682.5,1173.5 L678.5,1173.6 L674.5,1173.7 L670.4,1173.8 L666.4,1173.8 L662.4,1174.0 L658.4,1174.1 L654.4,1174.2 L650.4,1174.3 L646.4,1174.4 L642.3,1174.6 L638.3,1174.7 L634.3,1174.9 L630.3,1175.0 L626.3,1175.2 L622.3,1175.4 L618.3,1175.6 L614.3,1175.8 L610.2,1176.0 L606.2,1176.2 L602.2,1176.4 L598.2,1176.6 L598.6,1172.4 L598.9,1168.2 L599.3,1164.0 L599.6,1159.7 L599.9,1155.4 L600.2,1151.2 L600.6,1146.9 L601.1,1142.7 L601.7,1138.4 L602.4,1134.2 L603.2,1130.1 L604.2,1126.0 L605.4,1121.9 L606.7,1117.9 L608.3,1114.0 L610.1,1110.2 L612.2,1106.4" fill="none" stroke="#00f" stroke-width="3.3" stroke-linejoin="miter" stroke-miterlimit="2.5" stroke-linecap="butt"/>
<path d="M527.3,1133.4 L530.3,1130.4 L533.4,1127.6 L536.5,1125.0 L539.7,1122.5 L543.0,1120.2 L546.3,1118.0 L549.7,1115.9 L553.1,1114.0 L556.6,1112.2 L560.2,1110.5 L563.8,1108.9 L567.4,1107.5 L571.1,1106.1 L574.8,1104.8 L578.6,1103.6 L582.4,1102.5 L586.2,1101.5 L590.1,1100.6 L594.0,1099.7 L597.9,1098.9 L601.8,1098.1 L605.8,1097.4 L609.8,1096.7 L613.7,1096.1 L617.7,1095.5 L621.7,1094.9 L625.7,1094.4 L629.7,1093.9 L633.8,1093.4 L637.8,1092.9 L641.8,1092.4 L645.8,1091.9 L649.8,1091.4 L653.8,1091.0 L657.8,1090.5 L661.8,1090.1 L665.8,1089.6 L669.8,1089.2 L673.7,1088.8 L677.7,1088.4 L681.7,1088.0 L685.7,1087.6 L689.7,1087.2 L693.7,1086.9 L697.7,1086.5 L701.7,1086.2 L705.7,1085.8 L709.7,1085.5 L713.7,1085.2 L717.7,1084.8 L721.7,1084.5 L725.7,1084.2 L729.7,1083.9 L733.6,1083.6 L737.6,1083.4 L741.6,1083.1 L745.6,1082.8 L749.6,1082.6 L753.6,1082.3 L757.6,1082.1 L761.6,1081.8 L765.6,1081.6 L769.6,1081.4 L773.6,1081.1 L777.6,1080.9 L781.6,1080.7 L785.5,1080.5 L789.5,1080.3 L793.5,1080.1 L797.5,1079.9 L801.5,1079.8 L805.5,1079.6 L809.5,1079.4 L813.5,1079.2 L817.5,1079.1 L821.5,1078.9 L825.5,1078.8 L829.5,1078.6 L833.5,1078.5 L837.5,1078.3 L841.5,1078.2 L845.5,1078.0 L849.5,1077.9 L853.5,1077.8 L857.5,1077.6 L861.5,1077.5 L865.5,1077.4 L869.6,1077.3 L873.6,1077.2 L877.6,1077.0 L881.6,1076.9 L885.6,1076.8 L889.6,1076.7 L893.6,1076.6 L897.6,1076.5 L901.7,1076.4 L905.7,1076.3 L909.7,1076.2 L913.7,1076.1 L917.7,1076.0 L921.8,1075.8 L925.8,1075.7 L929.8,1075.6 L933.8,1075.5 L937.8,1075.3 L941.9,1075.2 L945.9,1075.0 L949.9,1074.9 L953.9,1074.7 L957.9,1074.5 L962.0,1074.3 L966.0,1074.2 L970.0,1073.9 L974.0,1073.7 L978.0,1073.5 L982.0,1073.2 L986.0,1073.0 L990.0,1072.7 L994.0,1072.4 L998.0,1072.1 L1002.0,1071.8 L1006.0,1071.4 L1010.0,1071.1 L1014.0,1070.7 L1018.0,1070.3 L1022.0,1069.9 L1026.0,1069.5 L1029.9,1069.0 L1033.9,1068.5 L1037.9,1068.0 L1041.9,1067.5 L1045.8,1066.9 L1049.8,1066.4 L1053.7,1065.8 L1057.7,1065.1 L1061.6,1064.5 L1065.6,1063.8 L1069.5,1063.1 L1073.5,1062.4 L1077.4,1061.6 L1081.3,1060.8 L1085.2,1060.0 L1089.1,1059.1 L1093.0,1058.2 L1097.0,1057.3 L1100.8,1056.3 L1104.7,1055.3 L1108.6,1054.3 L1112.5,1053.2 L1116.3,1052.0 L1120.1,1050.8 L1123.8,1049.4 L1127.5,1048.0 L1131.1,1046.5 L1134.7,1044.8 L1138.2,1043.0 L1141.6,1041.1 L1145.0,1039.0 L1148.2,1036.8 L1151.4,1034.4 L1154.4,1031.8 L1157.4,1029.1 L1160.2,1026.3 L1163.0,1023.3 L1165.8,1020.3 L1168.4,1017.2 L1171.0,1014.0 L1173.5,1010.8 L1176.0,1007.5 L1178.4,1004.2 L1180.8,1000.9 L1183.1,997.6 L1185.3,994.2 L1187.6,990.9 L1189.7,987.5 L1191.9,984.0 L1193.9,980.6 L1196.0,977.1 L1198.0,973.6 L1199.9,970.1 L1201.8,966.6 L1203.7,963.1 L1205.5,959.5 L1207.3,955.9 L1209.1,952.3 L1210.8,948.7 L1212.5,945.1 L1214.1,941.4 L1215.7,937.8 L1217.3,934.1 L1218.9,930.4 L1220.4,926.7 L1221.9,923.0 L1223.3,919.3 L1224.7,915.6 L1226.1,911.8 L1227.5,908.1 L1228.9,904.3 L1230.2,900.5 L1231.5,896.8 L1232.8,893.0 L1234.0,889.2 L1235.3,885.4 L1236.5,881.6 L1237.7,877.7 L1238.9,873.9 L1240.0,870.1 L1241.2,866.3 L1242.3,862.5 L1243.4,858.6 L1244.5,854.8 L1245.6,850.9 L1246.7,847.1 L1247.8,843.2 L1248.8,839.4 L1249.9,835.5 L1250.9,831.6 L1251.9,827.8 L1252.9,823.9 L1253.9,820.0 L1254.9,816.2 L1255.9,812.3 L1256.8,808.4 L1257.8,804.5 L1258.8,800.6 L1259.7,796.7 L1260.7,792.8 L1261.6,788.9 L1262.6,785.0 L1263.5,781.1 L1264.4,777.2 L1265.4,773.3 L1266.3,769.4 L1267.2,765.5 L1268.2,761.6 L1269.1,757.7 L1270.0,753.8 L1271.0,749.8 L1271.9,745.9 L1272.8,742.0 L1273.7,738.1 L1274.7,734.2 L1275.6,730.3 L1276.5,726.4 L1277.5,722.4 L1278.4,718.5 L1279.3,714.6 L1280.2,710.7 L1281.2,706.8 L1282.1,702.9 L1283.0,699.0 L1284.0,695.1 L1284.9,691.3 L1285.8,687.4 L1286.8,683.5 L1287.7,679.6 L1288.6,675.8 L1289.6,671.9 L1290.5,668.0 L1291.5,664.2 L1292.4,660.3 L1293.4,656.5 L1294.3,652.6 L1295.3,648.8 L1296.3,645.0 L1297.2,641.1 L1298.2,637.3 L1299.2,633.4 L1300.2,629.6 L1301.2,625.8 L1302.2,621.9 L1303.3,618.0 L1304.3,614.2 L1305.3,610.3 L1306.4,606.4 L1307.5,602.6 L1308.5,598.7 L1309.6,594.8 L1310.8,590.8 L1311.9,586.9 L1313.0,583.0 L1314.2,579.0 L1315.3,575.1 L1316.5,571.1 L1317.7,567.1 L1319.0,563.2 L1320.4,559.2 L1321.8,555.4 L1323.4,551.6 L1325.1,548.0 L1326.9,544.4 L1329.0,541.1 L1331.3,537.9 L1333.9,535.0 L1336.7,532.2 L1339.7,529.8 L1343.0,527.8 L1346.3,526.5 L1349.6,526.2 L1352.7,527.0 L1355.5,528.9 L1358.2,531.7 L1360.7,534.9 L1363.1,538.2 L1365.4,541.6 L1367.5,545.1 L1369.5,548.5 L1371.5,552.1 L1373.3,555.6 L1375.1,559.2 L1376.7,562.9 L1378.3,566.6 L1379.8,570.3 L1381.2,574.0 L1382.6,577.8 L1383.9,581.6 L1385.1,585.4 L1386.3,589.3 L1387.5,593.2 L1388.6,597.0 L1389.7,600.9 L1390.7,604.8 L1391.7,608.7 L1392.7,612.7 L1393.7,616.6 L1394.7,620.5 L1395.7,624.4 L1396.7,628.3 L1397.6,632.2 L1398.6,636.2 L1399.6,640.1 L1400.6,643.9 L1401.6,647.8 L1402.6,651.7 L1403.7,655.6 L1404.7,659.5 L1405.8,663.3 L1406.8,667.2 L1407.9,671.0 L1409.0,674.9 L1410.1,678.7 L1411.2,682.6 L1412.3,686.4 L1413.5,690.2 L1414.6,694.0 L1415.8,697.8 L1417.0,701.6 L1418.2,705.4 L1419.4,709.2 L1420.7,713.0 L1422.0,716.8 L1423.3,720.6 L1424.6,724.3 L1425.9,728.1 L1427.3,731.8 L1428.7,735.6 L1430.1,739.3 L1431.5,743.1 L1433.0,746.8 L1434.5,750.5 L1436.0,754.2 L1437.6,757.9 L1439.1,761.7 L1440.7,765.3 L1442.4,769.0 L1444.0,772.7 L1445.7,776.4 L1447.5,780.0 L1449.3,783.7 L1451.1,787.3 L1453.0,790.9 L1454.9,794.4 L1456.9,797.9 L1458.9,801.4 L1461.0,804.8 L1463.2,808.2 L1465.4,811.5 L1467.7,814.7 L1470.0,817.9 L1472.5,821.0 L1475.0,824.1 L1477.6,827.1 L1480.3,830.0 L1483.0,832.8 L1485.9,835.5 L1488.8,838.2 L1491.9,840.7 L1495.0,843.2 L1498.2,845.5 L1501.6,847.7 L1505.0,849.9 L1508.6,851.9 L1512.2,853.7 L1515.9,855.4 L1519.7,856.8 L1523.6,858.1 L1527.5,859.1 L1531.5,859.9 L1535.5,860.3 L1539.6,860.5 L1543.6,860.5 L1547.7,860.2 L1551.7,859.7 L1555.7,858.9 L1559.7,857.9 L1563.5,856.7 L1567.3,855.4 L1570.9,853.8 L1574.5,852.1 L1577.9,850.2 L1581.3,848.2 L1584.6,846.0 L1587.8,843.7 L1590.9,841.2 L1593.9,838.7 L1596.9,836.0 L1599.7,833.2 L1602.5,830.3 L1605.3,827.4 L1607.9,824.4 L1610.5,821.3 L1613.1,818.1 L1615.6,814.9 L1618.0,811.7 L1620.4,808.5 L1622.7,805.2 L1625.0,801.9 L1627.2,798.5 L1629.4,795.2 L1631.5,791.8 L1633.6,788.4 L1635.7,784.9 L1637.7,781.5 L1639.7,778.0 L1641.6,774.5 L1643.5,771.0 L1645.3,767.5 L1647.1,763.9 L1648.9,760.4 L1650.6,756.8 L1652.3,753.2 L1654.0,749.5 L1655.7,745.9 L1657.3,742.2 L1658.8,738.6 L1660.4,734.9 L1661.9,731.2 L1663.4,727.5 L1664.8,723.8 L1666.2,720.0 L1667.6,716.3 L1669.0,712.5 L1670.4,708.7 L1671.7,704.9 L1673.0,701.2 L1674.3,697.4 L1675.6,693.5 L1676.8,689.7 L1678.1,685.9 L1679.3,682.1 L1680.5,678.2 L1681.7,674.4 L1682.9,670.5 L1684.0,666.7 L1685.2,662.8 L1686.3,659.0 L1687.4,655.1 L1688.6,651.2 L1689.7,647.4 L1690.8,643.5 L1691.9,639.6 L1693.0,635.8 L1694.1,631.9 L1695.2,628.0 L1696.2,624.2 L1697.3,620.3 L1698.4,616.4 L1699.5,612.6 L1700.5,608.7 L1701.6,604.8 L1702.6,601.0 L1703.7,597.1 L1704.7,593.2 L1705.8,589.3 L1706.8,585.5 L1707.9,581.6 L1708.9,577.7 L1709.9,573.9 L1710.9,570.0 L1712.0,566.1 L1713.0,562.3 L1714.0,558.4 L1715.0,554.5 L1716.0,550.6 L1717.0,546.8 L1718.0,542.9 L1719.0,539.0 L1720.0,535.1 L1721.0,531.3 L1722.0,527.4 L1723.0,523.5 L1724.0,519.6 L1725.0,515.8 L1725.9,511.9 L1726.9,508.0 L1727.9,504.1 L1728.9,500.2 L1729.8,496.4 L1730.8,492.5 L1731.8,488.6 L1732.7,484.7 L1733.7,480.8 L1734.7,476.9 L1735.6,473.1 L1736.6,469.2 L1737.5,465.3 L1738.5,461.4 L1739.4,457.5 L1740.4,453.6 L1741.3,449.7 L1742.3,445.8 L1743.2,441.9 L1744.2,438.1 L1745.1,434.2 L1746.0,430.3 L1747.0,426.4 L1747.9,422.5 L1748.9,418.6 L1749.8,414.7 L1750.7,410.8 L1751.7,406.9 L1752.6,403.0 L1753.6,399.0 L1754.5,395.1 L1755.4,391.2 L1756.4,387.3 L1757.3,383.4 L1758.3,379.5 L1759.2,375.6 L1760.2,371.7 L1761.2,367.8 L1762.1,363.9 L1763.1,360.0 L1764.1,356.1 L1765.1,352.2 L1766.1,348.3 L1767.1,344.5 L1768.2,340.6 L1769.2,336.7 L1770.3,332.8 L1771.4,329.0 L1772.4,325.1 L1773.6,321.2 L1774.7,317.4 L1775.8,313.6 L1777.0,309.7 L1778.1,305.9 L1779.3,302.1 L1780.6,298.3 L1781.8,294.5 L1783.1,290.7 L1784.3,286.9 L1785.6,283.1 L1787.0,279.3 L1788.3,275.6 L1789.7,271.8 L1791.1,268.1 L1792.6,264.3 L1794.0,260.6 L1795.5,256.9 L1797.0,253.2 L1798.6,249.5 L1800.2,245.9 L1801.8,242.2 L1803.4,238.6 L1805.1,234.9 L1806.8,231.3 L1808.6,227.7 L1810.4,224.1 L1812.2,220.5 L1814.1,217.0 L1816.0,213.4 L1817.9,209.9 L1819.9,206.4 L1821.9,202.9 L1824.0,199.4 L1826.1,195.9 L1828.2,192.5 L1830.5,189.2 L1832.8,185.9 L1835.3,182.8 L1838.0,180.0 L1840.9,177.4 L1844.0,175.0 L1847.4,173.0 L1851.0,171.4 L1854.9,170.2 L1858.8,169.3 L1862.9,168.8 L1866.9,168.6 L1870.9,168.9 L1874.9,169.5 L1878.8,170.3 L1882.7,171.4 L1886.6,172.7 L1890.3,174.1 L1894.1,175.6 L1897.8,177.1 L1901.5,178.7 L1905.2,180.1 L1908.9,181.5 L1908.9,185.5 L1908.8,189.5 L1908.8,193.6 L1908.7,197.6 L1908.7,201.6 L1908.6,205.6 L1908.6,209.6 L1908.5,213.7 L1908.4,217.7 L1908.3,221.7 L1908.3,225.7 L1908.2,229.7 L1908.1,233.7 L1908.0,237.7 L1907.9,241.7 L1907.8,245.8 L1907.7,249.8 L1907.5,253.8 L1907.4,257.8 L1907.3,261.8 L1907.2,265.8 L1907.0,269.8 L1906.9,273.8 L1906.8,277.8 L1906.6,281.8 L1906.5,285.8 L1906.3,289.8 L1906.2,293.8 L1906.0,297.8 L1905.8,301.8 L1905.7,305.8 L1905.5,309.8 L1905.3,313.8 L1905.1,317.8 L1904.9,321.8 L1904.7,325.8 L1904.5,329.8 L1904.3,333.8 L1904.1,337.8 L1903.9,341.8 L1903.7,345.8 L1903.5,349.8 L1903.3,353.8 L1903.0,357.8 L1902.8,361.8 L1902.6,365.8 L1902.4,369.8 L1902.1,373.8 L1901.9,377.8 L1901.6,381.8 L1901.4,385.8 L1901.1,389.7 L1900.9,393.7 L1900.6,397.7 L1900.3,401.7 L1900.1,405.7 L1899.8,409.7 L1899.5,413.7 L1899.2,417.7 L1898.9,421.7 L1898.7,425.7 L1898.4,429.7 L1898.1,433.6 L1897.8,437.6 L1897.5,441.6 L1897.2,445.6 L1896.9,449.6 L1896.6,453.6 L1896.2,457.6 L1895.9,461.6 L1895.6,465.6 L1895.3,469.5 L1894.9,473.5 L1894.6,477.5 L1894.3,481.5 L1893.9,485.5 L1893.6,489.5 L1893.3,493.5 L1892.9,497.5 L1892.6,501.5 L1892.2,505.5 L1891.8,509.4 L1891.5,513.4 L1891.1,517.4 L1890.8,521.4 L1890.4,525.4 L1890.0,529.4 L1889.6,533.4 L1889.3,537.4 L1888.9,541.4 L1888.5,545.4 L1888.1,549.3 L1887.7,553.3 L1887.3,557.3 L1886.9,561.3 L1886.5,565.3 L1886.1,569.3 L1885.7,573.3 L1885.3,577.3 L1884.9,581.3 L1884.5,585.3 L1884.1,589.3 L1883.7,593.3 L1883.3,597.3 L1882.8,601.3 L1882.4,605.3 L1882.0,609.2 L1881.6,613.2 L1881.1,617.2 L1880.7,621.2 L1880.3,625.2 L1879.8,629.2 L1879.4,633.2 L1878.9,637.2 L1878.5,641.2 L1878.0,645.2 L1877.6,649.2 L1877.1,653.2 L1876.7,657.2 L1876.2,661.2 L1875.7,665.2 L1875.2,669.2 L1874.7,673.2 L1874.2,677.2 L1873.7,681.2 L1873.2,685.2 L1872.7,689.2 L1872.2,693.2 L1871.6,697.1 L1871.1,701.1 L1870.6,705.1 L1870.0,709.1 L1869.4,713.1 L1868.8,717.0 L1868.3,721.0 L1867.7,725.0 L1867.1,729.0 L1866.4,732.9 L1865.8,736.9 L1865.2,740.8 L1864.5,744.8 L1863.9,748.8 L1863.2,752.7 L1862.5,756.7 L1861.8,760.6 L1861.1,764.5 L1860.4,768.5 L1859.6,772.4 L1858.9,776.3 L1858.1,780.3 L1857.3,784.2 L1856.5,788.1 L1855.7,792.0 L1854.9,795.9 L1854.1,799.8 L1853.2,803.7 L1852.3,807.6 L1851.4,811.5 L1850.5,815.4 L1849.6,819.3 L1848.7,823.2 L1847.7,827.0 L1846.7,830.9 L1845.7,834.8 L1844.7,838.6 L1843.7,842.5 L1842.6,846.3 L1841.6,850.1 L1840.5,854.0 L1839.4,857.8 L1838.2,861.6 L1837.1,865.4 L1835.9,869.2 L1834.7,873.0 L1833.5,876.8 L1832.3,880.6 L1831.0,884.4 L1829.8,888.2 L1828.5,891.9 L1827.1,895.7 L1825.8,899.4 L1824.4,903.2 L1823.0,906.9 L1821.6,910.6 L1820.2,914.3 L1818.7,918.1 L1817.2,921.8 L1815.7,925.5 L1814.1,929.1 L1812.6,932.8 L1811.0,936.5 L1809.3,940.1 L1807.7,943.8 L1806.0,947.4 L1804.3,951.0 L1802.5,954.6 L1800.8,958.2 L1799.0,961.7 L1797.1,965.3 L1795.3,968.8 L1793.3,972.3 L1791.4,975.8 L1789.4,979.3 L1787.4,982.7 L1785.4,986.1 L1783.3,989.5 L1781.1,992.9 L1779.0,996.2 L1776.8,999.5 L1774.5,1002.8 L1772.3,1006.1 L1769.9,1009.3 L1767.6,1012.5 L1765.2,1015.7 L1762.7,1018.8 L1760.2,1021.9 L1757.7,1025.0 L1755.1,1028.1 L1752.5,1031.1 L1749.8,1034.0 L1747.1,1037.0 L1744.3,1039.9 L1741.5,1042.7 L1738.7,1045.6 L1735.8,1048.4 L1732.9,1051.1 L1730.0,1053.9 L1727.0,1056.5 L1724.0,1059.2 L1721.0,1061.8 L1717.9,1064.4 L1714.8,1066.9 L1711.6,1069.4 L1708.4,1071.9 L1705.2,1074.3 L1702.0,1076.7 L1698.7,1079.1 L1695.4,1081.4 L1692.1,1083.7 L1688.8,1085.9 L1685.4,1088.1 L1682.0,1090.3 L1678.6,1092.4 L1675.1,1094.5 L1671.6,1096.5 L1668.1,1098.5 L1664.6,1100.5 L1661.1,1102.4 L1657.5,1104.3 L1653.9,1106.1 L1650.3,1107.9 L1646.7,1109.6 L1643.1,1111.3 L1639.4,1113.0 L1635.7,1114.6 L1632.0,1116.2 L1628.3,1117.8 L1624.6,1119.2 L1620.9,1120.7 L1617.2,1122.1 L1613.4,1123.5 L1609.6,1124.8 L1605.9,1126.1 L1602.1,1127.3 L1598.3,1128.5 L1594.5,1129.7 L1590.6,1130.8 L1586.8,1131.9 L1583.0,1133.0 L1579.1,1134.0 L1575.3,1135.0 L1571.4,1136.0 L1567.5,1136.9 L1563.6,1137.8 L1559.7,1138.7 L1555.8,1139.6 L1551.9,1140.4 L1548.0,1141.2 L1544.1,1142.0 L1540.2,1142.7 L1536.3,1143.5 L1532.3,1144.2 L1528.4,1144.9 L1524.4,1145.6 L1520.5,1146.2 L1516.5,1146.9 L1512.6,1147.5 L1508.6,1148.1 L1504.6,1148.7 L1500.6,1149.3 L1496.7,1149.9 L1492.7,1150.5 L1488.7,1151.1 L1484.7,1151.6 L1480.8,1152.2 L1476.8,1152.7 L1472.8,1153.2 L1468.8,1153.8 L1464.8,1154.3 L1460.8,1154.8 L1456.9,1155.4 L1452.9,1155.9 L1448.9,1156.4 L1444.9,1157.0 L1440.9,1157.5 L1436.9,1158.0 L1433.0,1158.5 L1429.0,1159.1 L1425.0,1159.6 L1421.0,1160.1 L1417.0,1160.6 L1413.0,1161.2 L1409.1,1161.7 L1405.1,1162.2 L1401.1,1162.7 L1397.1,1163.3 L1393.2,1163.8 L1389.2,1164.4 L1385.2,1164.9 L1381.2,1165.4 L1377.3,1166.0 L1373.3,1166.5 L1369.3,1167.1 L1365.3,1167.7 L1361.4,1168.2 L1357.4,1168.8 L1353.4,1169.4 L1349.5,1170.0 L1345.5,1170.6 L1341.6,1171.2 L1337.6,1171.8 L1333.6,1172.4 L1329.7,1173.0 L1325.7,1173.6 L1321.8,1174.2 L1317.8,1174.9 L1313.9,1175.5 L1309.9,1176.2 L1306.0,1176.8 L1302.1,1177.5 L1298.1,1178.2 L1294.2,1178.9 L1290.2,1179.6 L1286.3,1180.3 L1282.4,1181.0 L1278.5,1181.8 L1274.5,1182.5 L1270.6,1183.3 L1266.7,1184.0 L1262.8,1184.8 L1258.8,1185.6 L1254.9,1186.4 L1251.0,1187.2 L1247.1,1188.0 L1243.2,1188.8 L1239.3,1189.6 L1235.4,1190.4 L1231.5,1191.3 L1227.6,1192.1 L1223.6,1193.0 L1219.7,1193.8 L1215.8,1194.7 L1211.9,1195.6 L1208.0,1196.5 L1204.1,1197.4 L1200.2,1198.3 L1196.3,1199.2 L1192.4,1200.1 L1188.5,1201.0 L1184.6,1201.9 L1180.7,1202.9 L1176.8,1203.8 L1172.9,1204.8 L1169.0,1205.7 L1165.1,1206.7 L1161.2,1207.6 L1157.3,1208.6 L1153.4,1209.6 L1149.5,1210.6 L1145.5,1211.6 L1141.6,1212.6 L1137.7,1213.6 L1133.8,1214.6 L1129.9,1215.6 L1126.0,1216.6 L1122.1,1217.6 L1118.1,1218.7 L1114.2,1219.7 L1110.3,1220.7 L1106.4,1221.7 L1102.5,1222.7 L1098.5,1223.6 L1094.6,1224.5 L1090.7,1225.3 L1086.8,1226.0 L1082.9,1226.6 L1079.0,1227.1 L1075.0,1227.6 L1071.1,1227.8 L1067.2,1228.0 L1063.4,1228.0 L1059.5,1227.8 L1055.6,1227.5 L1051.7,1227.0 L1047.8,1226.3 L1044.0,1225.5 L1040.1,1224.5 L1036.3,1223.5 L1032.5,1222.2 L1028.6,1220.9 L1024.8,1219.6 L1021.0,1218.1 L1017.2,1216.6 L1013.5,1215.1 L1009.7,1213.5 L1005.9,1211.9 L1002.2,1210.3 L998.5,1208.8 L994.7,1207.2 L991.0,1205.7 L987.3,1204.1 L983.5,1202.7 L979.8,1201.2 L976.0,1199.9 L972.3,1198.6 L968.5,1197.3 L964.7,1196.2 L960.9,1195.1 L957.0,1194.2 L953.2,1193.4 L949.3,1192.6 L945.4,1192.0 L941.5,1191.5 L937.5,1191.1 L933.6,1190.9 L929.6,1190.7 L925.6,1190.6 L921.6,1190.6 L917.6,1190.6 L913.6,1190.8 L909.6,1191.0 L905.6,1191.4 L901.6,1191.7 L897.6,1192.2 L893.5,1192.7 L889.5,1193.3 L885.5,1193.9 L881.5,1194.6 L877.6,1195.4 L873.6,1196.2 L869.6,1197.0 L865.7,1197.9 L861.8,1198.8 L857.9,1199.7 L853.9,1200.7 L850.0,1201.7 L846.2,1202.7 L842.3,1203.8 L838.4,1204.9 L834.5,1206.0 L830.7,1207.1 L826.8,1208.2 L822.9,1209.3 L819.1,1210.5 L815.2,1211.6 L811.4,1212.8 L807.6,1213.9 L803.7,1215.1 L799.9,1216.2 L796.0,1217.4 L792.2,1218.5 L788.4,1219.6 L784.5,1220.7 L780.7,1221.8 L776.8,1222.8 L773.0,1223.9 L769.1,1224.9 L765.2,1225.9 L761.4,1226.8 L757.5,1227.7 L753.6,1228.6 L749.7,1229.4 L745.8,1230.2 L741.9,1231.0 L738.0,1231.7 L734.0,1232.3 L730.1,1232.9 L726.1,1233.5 L722.2,1234.1 L718.2,1234.6 L714.3,1235.1 L710.3,1235.5 L706.3,1235.9 L702.3,1236.3 L698.3,1236.7 L694.3,1237.0 L690.3,1237.3 L686.3,1237.6 L682.3,1237.9 L678.3,1238.2 L674.3,1238.5 L670.3,1238.7 L666.2,1239.0 L662.2,1239.2 L658.2,1239.4 L654.2,1239.6 L650.2,1239.9 L646.1,1240.1 L642.1,1240.3 L638.1,1240.6 L634.1,1240.8 L630.1,1241.1 L626.1,1241.3 L622.1,1241.6 L618.1,1241.9 L614.1,1242.2 L610.1,1242.5 L606.1,1242.9 L602.1,1243.3 L598.1,1243.7 L594.1,1244.1 L590.2,1244.6 L586.2,1245.0 L582.2,1245.6 L578.3,1246.1 L574.3,1246.7 L570.4,1247.4 L566.5,1248.0 L562.6,1248.7 L558.7,1249.5 L554.8,1250.3 L550.9,1251.2 L547.0,1252.1 L543.2,1253.1 L539.3,1254.1 L535.5,1255.1 L531.7,1256.3 L527.9,1257.5 L524.1,1258.7 L520.3,1260.1 L516.5,1261.5 L512.8,1262.9 L509.0,1264.5 L505.3,1266.1 L501.6,1267.7 L497.9,1269.5 L497.9,1265.2 L498.0,1260.9 L498.1,1256.6 L498.3,1252.2 L498.6,1247.9 L498.9,1243.5 L499.3,1239.2 L499.8,1234.9 L500.4,1230.6 L501.0,1226.3 L501.8,1222.0 L502.7,1217.8 L503.7,1213.6 L504.8,1209.4 L506.1,1205.3 L507.5,1201.3 L509.1,1197.2 L510.8,1193.3 L512.7,1189.4 L514.7,1185.6 L516.9,1181.8 L519.3,1178.2 L521.9,1174.6" fill="none" stroke="#008080" stroke-width="3.2" stroke-linejoin="miter" stroke-miterlimit="2.5" stroke-linecap="butt"/>
<rect x="285.00" y="55.00" width="1827.00" height="5.90" rx="1.6" fill="#000"/>
<rect x="285.00" y="1387.00" width="1827.00" height="6.90" rx="1.6" fill="#000"/>
<rect x="298.00" y="55.00" width="6.00" height="1365.00" rx="1.6" fill="#000"/>
<rect x="2106.10" y="55.00" width="5.90" height="1365.00" rx="1.6" fill="#000"/>
<rect x="272.00" y="1346.00" width="30.00" height="6.80" rx="1.6" fill="#000"/>
<text transform="translate(257,1363.3) scale(1,1.04)" class="tl" text-anchor="end">6</text>
<text transform="translate(208.3,1364.9) scale(1.17,1)" class="tl">-</text>
<rect x="285.00" y="1304.34" width="17.00" height="6.80" rx="1.6" fill="#000"/>
<rect x="272.00" y="1262.67" width="30.00" height="6.80" rx="1.6" fill="#000"/>
<text transform="translate(257,1280.0) scale(1,1.04)" class="tl" text-anchor="end">4</text>
<text transform="translate(208.3,1281.6) scale(1.17,1)" class="tl">-</text>
<rect x="285.00" y="1221.00" width="17.00" height="6.80" rx="1.6" fill="#000"/>
<rect x="272.00" y="1179.33" width="30.00" height="6.80" rx="1.6" fill="#000"/>
<text transform="translate(257,1196.6) scale(1,1.04)" class="tl" text-anchor="end">2</text>
<text transform="translate(208.3,1198.2) scale(1.17,1)" class="tl">-</text>
<rect x="285.00" y="1137.67" width="17.00" height="6.80" rx="1.6" fill="#000"/>
<rect x="272.00" y="1096.00" width="30.00" height="6.80" rx="1.6" fill="#000"/>
<text transform="translate(257,1113.3) scale(1,1.04)" class="tl" text-anchor="end">0</text>
<rect x="285.00" y="1054.33" width="17.00" height="6.80" rx="1.6" fill="#000"/>
<rect x="272.00" y="1012.67" width="30.00" height="6.80" rx="1.6" fill="#000"/>
<text transform="translate(257,1030.0) scale(1,1.04)" class="tl" text-anchor="end">2</text>
<rect x="285.00" y="971.00" width="17.00" height="6.80" rx="1.6" fill="#000"/>
<rect x="272.00" y="929.33" width="30.00" height="6.80" rx="1.6" fill="#000"/>
<text transform="translate(257,946.6) scale(1,1.04)" class="tl" text-anchor="end">4</text>
<rect x="285.00" y="887.67" width="17.00" height="6.80" rx="1.6" fill="#000"/>
<rect x="272.00" y="846.00" width="30.00" height="6.80" rx="1.6" fill="#000"/>
<text transform="translate(257,863.3) scale(1,1.04)" class="tl" text-anchor="end">6</text>
<rect x="285.00" y="804.33" width="17.00" height="6.80" rx="1.6" fill="#000"/>
<rect x="272.00" y="762.66" width="30.00" height="6.80" rx="1.6" fill="#000"/>
<text transform="translate(257,780.0) scale(1,1.04)" class="tl" text-anchor="end">8</text>
<rect x="285.00" y="721.00" width="17.00" height="6.80" rx="1.6" fill="#000"/>
<rect x="272.00" y="679.33" width="30.00" height="6.80" rx="1.6" fill="#000"/>
<text transform="translate(257,696.6) scale(1,1.04)" class="tl" text-anchor="end">10</text>
<rect x="285.00" y="637.66" width="17.00" height="6.80" rx="1.6" fill="#000"/>
<rect x="272.00" y="596.00" width="30.00" height="6.80" rx="1.6" fill="#000"/>
<text transform="translate(257,613.3) scale(1,1.04)" class="tl" text-anchor="end">12</text>
<rect x="285.00" y="554.33" width="17.00" height="6.80" rx="1.6" fill="#000"/>
<rect x="272.00" y="512.66" width="30.00" height="6.80" rx="1.6" fill="#000"/>
<text transform="translate(257,530.0) scale(1,1.04)" class="tl" text-anchor="end">14</text>
<rect x="285.00" y="471.00" width="17.00" height="6.80" rx="1.6" fill="#000"/>
<rect x="272.00" y="429.33" width="30.00" height="6.80" rx="1.6" fill="#000"/>
<text transform="translate(257,446.6) scale(1,1.04)" class="tl" text-anchor="end">16</text>
<rect x="285.00" y="387.66" width="17.00" height="6.80" rx="1.6" fill="#000"/>
<rect x="272.00" y="345.99" width="30.00" height="6.80" rx="1.6" fill="#000"/>
<text transform="translate(257,363.3) scale(1,1.04)" class="tl" text-anchor="end">18</text>
<rect x="285.00" y="304.33" width="17.00" height="6.80" rx="1.6" fill="#000"/>
<rect x="272.00" y="262.66" width="30.00" height="6.80" rx="1.6" fill="#000"/>
<text transform="translate(257,280.0) scale(1,1.04)" class="tl" text-anchor="end">20</text>
<rect x="285.00" y="220.99" width="17.00" height="6.80" rx="1.6" fill="#000"/>
<rect x="272.00" y="179.33" width="30.00" height="6.80" rx="1.6" fill="#000"/>
<text transform="translate(257,196.6) scale(1,1.04)" class="tl" text-anchor="end">22</text>
<rect x="285.00" y="137.66" width="17.00" height="6.80" rx="1.6" fill="#000"/>
<rect x="272.00" y="95.99" width="30.00" height="6.80" rx="1.6" fill="#000"/>
<text transform="translate(257,113.3) scale(1,1.04)" class="tl" text-anchor="end">24</text>
<text transform="translate(301.0,1474.9) scale(1,1.04)" class="tl" text-anchor="middle">0.0</text>
<rect x="398.50" y="1389.00" width="5.90" height="18.00" rx="1.6" fill="#000"/>
<rect x="498.94" y="1389.00" width="5.90" height="31.00" rx="1.6" fill="#000"/>
<text transform="translate(501.9,1474.9) scale(1,1.04)" class="tl" text-anchor="middle">0.1</text>
<rect x="599.38" y="1389.00" width="5.90" height="18.00" rx="1.6" fill="#000"/>
<rect x="699.83" y="1389.00" width="5.90" height="31.00" rx="1.6" fill="#000"/>
<text transform="translate(702.8,1474.9) scale(1,1.04)" class="tl" text-anchor="middle">0.2</text>
<rect x="800.27" y="1389.00" width="5.90" height="18.00" rx="1.6" fill="#000"/>
<rect x="900.72" y="1389.00" width="5.90" height="31.00" rx="1.6" fill="#000"/>
<text transform="translate(903.7,1474.9) scale(1,1.04)" class="tl" text-anchor="middle">0.3</text>
<rect x="1001.17" y="1389.00" width="5.90" height="18.00" rx="1.6" fill="#000"/>
<rect x="1101.61" y="1389.00" width="5.90" height="31.00" rx="1.6" fill="#000"/>
<text transform="translate(1104.6,1474.9) scale(1,1.04)" class="tl" text-anchor="middle">0.4</text>
<rect x="1202.06" y="1389.00" width="5.90" height="18.00" rx="1.6" fill="#000"/>
<rect x="1302.50" y="1389.00" width="5.90" height="31.00" rx="1.6" fill="#000"/>
<text transform="translate(1305.5,1474.9) scale(1,1.04)" class="tl" text-anchor="middle">0.5</text>
<rect x="1402.95" y="1389.00" width="5.90" height="18.00" rx="1.6" fill="#000"/>
<rect x="1503.39" y="1389.00" width="5.90" height="31.00" rx="1.6" fill="#000"/>
<text transform="translate(1506.3,1474.9) scale(1,1.04)" class="tl" text-anchor="middle">0.6</text>
<rect x="1603.84" y="1389.00" width="5.90" height="18.00" rx="1.6" fill="#000"/>
<rect x="1704.28" y="1389.00" width="5.90" height="31.00" rx="1.6" fill="#000"/>
<text transform="translate(1707.2,1474.9) scale(1,1.04)" class="tl" text-anchor="middle">0.7</text>
<rect x="1804.73" y="1389.00" width="5.90" height="18.00" rx="1.6" fill="#000"/>
<rect x="1905.17" y="1389.00" width="5.90" height="31.00" rx="1.6" fill="#000"/>
<text transform="translate(1908.1,1474.9) scale(1,1.04)" class="tl" text-anchor="middle">0.8</text>
<rect x="2005.62" y="1389.00" width="5.90" height="18.00" rx="1.6" fill="#000"/>
<text transform="translate(2109.0,1474.9) scale(1,1.04)" class="tl" text-anchor="middle">0.9</text>
<text transform="translate(942.7,1589.8) scale(1,1.02)" class="ttl">E/V vs Ag/AgCl</text>
<g transform="translate(84.8,0) rotate(-90)"><text transform="scale(1,1.028)" x="-818.8" y="0" class="ttl">I/</text><text x="-775.5" y="0" class="ser">&#181;A</text></g>
<text x="371" y="200" class="lab">a</text>
<rect x="326" y="297.5" width="536" height="315.5" fill="#fff" stroke="#000" stroke-width="3.5"/>
<line x1="334" y1="338.4" x2="482" y2="338.4" stroke="#000" stroke-width="3.4"/>
<text transform="translate(497.6,359.9) scale(1,1.045)" class="lg">GCE</text>
<line x1="334" y1="418" x2="482" y2="418" stroke="#f00" stroke-width="4.2"/>
<text transform="translate(497.6,438.5) scale(1,1.045)" class="lg">GCE-Pc</text>
<line x1="334" y1="497.3" x2="482" y2="497.3" stroke="#00f" stroke-width="3.1"/>
<text transform="translate(497.6,518.4) scale(1,1.045)" class="lg">GCE-CM</text>
<line x1="334" y1="576.3" x2="482" y2="576.3" stroke="#008080" stroke-width="3.4"/>
<text transform="translate(497.6,597.7) scale(1,1.045)" class="lg">GCE-CM-Pc</text>
</svg>
</body></html>
